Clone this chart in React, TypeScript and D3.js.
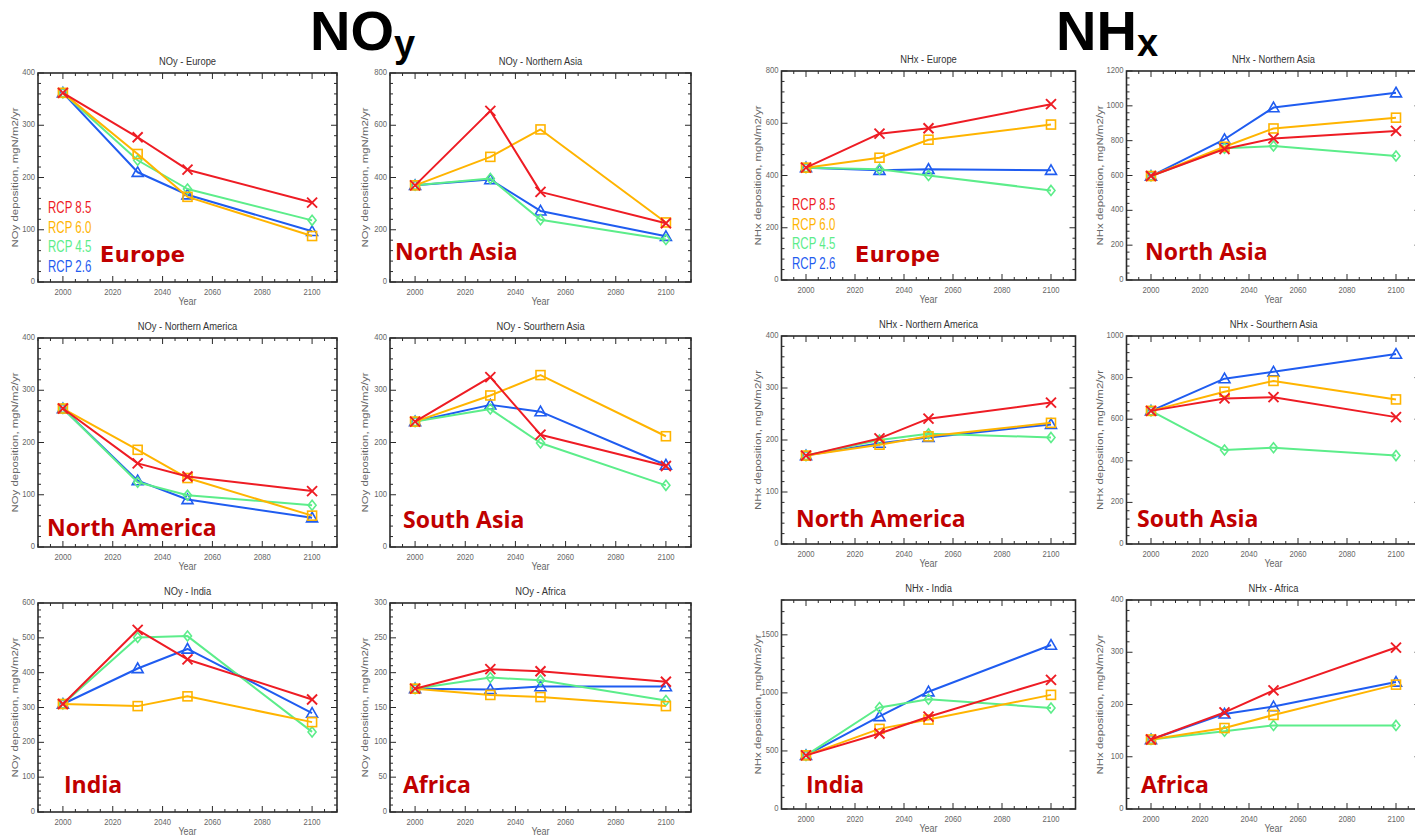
import React from 'react';
import * as d3 from 'd3';

// ---------- data ----------
const years = [2000, 2030, 2050, 2100];
const scenarios = ['RCP 8.5', 'RCP 6.0', 'RCP 4.5', 'RCP 2.6'];
const scenarioColors = ['#ee1c24', '#ffb400', '#5ced8a', '#1f5cf0'];
const scenarioMarkers = ['x', 'square', 'diamond', 'triangle'];
const xTicks = [2000, 2020, 2040, 2060, 2080, 2100];

// each: [RCP8.5, RCP6.0, RCP4.5, RCP2.6]
const noyEurope = [
  [362, 277, 215, 152],
  [362, 245, 163, 88],
  [362, 233, 178, 118],
  [362, 210, 167, 97],
];
const noyNorthAsia = [
  [370, 655, 345, 225],
  [370, 479, 584, 228],
  [370, 396, 238, 163],
  [370, 392, 272, 175],
];
const noyNorthAmerica = [
  [265, 160, 135, 107],
  [265, 186, 132, 60],
  [265, 124, 99, 80],
  [265, 127, 91, 56],
];
const noySouthAsia = [
  [240, 325, 215, 155],
  [240, 290, 329, 212],
  [240, 264, 199, 118],
  [240, 272, 259, 157],
];
const noyIndia = [
  [310, 523, 438, 323],
  [310, 304, 332, 258],
  [310, 501, 505, 230],
  [310, 412, 468, 284],
];
const noyAfrica = [
  [177, 205, 202, 187],
  [177, 168, 165, 152],
  [177, 193, 189, 160],
  [177, 176, 180, 180],
];
const nhxEurope = [
  [430, 560, 581, 673],
  [430, 468, 537, 595],
  [430, 424, 400, 343],
  [430, 420, 424, 420],
];
const nhxNorthAsia = [
  [597, 752, 813, 856],
  [597, 765, 870, 932],
  [597, 756, 769, 712],
  [597, 808, 990, 1075],
];
const nhxNorthAmerica = [
  [170, 203, 241, 272],
  [170, 191, 207, 233],
  [170, 200, 212, 205],
  [170, 194, 205, 230],
];
const nhxSouthAsia = [
  [640, 700, 706, 610],
  [640, 732, 784, 695],
  [640, 452, 463, 425],
  [640, 795, 828, 913],
];
const nhxIndia = [
  [462, 650, 795, 1112],
  [462, 690, 770, 983],
  [462, 874, 946, 870],
  [462, 797, 1010, 1412],
];
const nhxAfrica = [
  [133, 185, 227, 309],
  [133, 155, 180, 238],
  [133, 149, 160, 160],
  [133, 182, 196, 243],
];

// ---------- layout ----------
const colNoy1 = { x0: 38, x1: 337, yLabX: 15 };
const colNoy2 = { x0: 390, x1: 691, yLabX: 365 };
const colNhx1 = { x0: 781.5, x1: 1075.5, yLabX: 758 };
const colNhx2 = { x0: 1126.5, x1: 1420.5, yLabX: 1100 };
const rowNoy = [{ y0: 73, y1: 282 }, { y0: 338, y1: 547 }, { y0: 603, y1: 812 }];
const rowNhx = [{ y0: 71, y1: 280 }, { y0: 336, y1: 544 }, { y0: 600, y1: 809 }];

const panels = [
  { title: 'NOy - Europe', region: 'Europe', regionFont: 'eu', rx: 100, ry: 262, data: noyEurope, yMax: 400, step: 100, col: colNoy1, row: rowNoy[0], ylab: 'NOy deposition, mgN/m2/yr', legend: { x: 48, y: 213 } },
  { title: 'NOy - Northern Asia', region: 'North Asia', rx: 395, ry: 260, data: noyNorthAsia, yMax: 800, step: 200, col: colNoy2, row: rowNoy[0], ylab: 'NOy deposition, mgN/m2/yr' },
  { title: 'NOy - Northern America', region: 'North America', rx: 47, ry: 536, data: noyNorthAmerica, yMax: 400, step: 100, col: colNoy1, row: rowNoy[1], ylab: 'NOy deposition, mgN/m2/yr' },
  { title: 'NOy - Sourthern Asia', region: 'South Asia', rx: 403, ry: 528, data: noySouthAsia, yMax: 400, step: 100, col: colNoy2, row: rowNoy[1], ylab: 'NOy deposition, mgN/m2/yr' },
  { title: 'NOy - India', region: 'India', rx: 64, ry: 793, data: noyIndia, yMax: 600, step: 100, col: colNoy1, row: rowNoy[2], ylab: 'NOy deposition, mgN/m2/yr' },
  { title: 'NOy - Africa', region: 'Africa', rx: 403, ry: 793, data: noyAfrica, yMax: 300, step: 50, col: colNoy2, row: rowNoy[2], ylab: 'NOy deposition, mgN/m2/yr' },
  { title: 'NHx - Europe', region: 'Europe', regionFont: 'eu', rx: 855, ry: 262, data: nhxEurope, yMax: 800, step: 200, col: colNhx1, row: rowNhx[0], ylab: 'NHx deposition, mgN/m2/yr', legend: { x: 792, y: 210 } },
  { title: 'NHx - Northern Asia', region: 'North Asia', rx: 1145, ry: 260, data: nhxNorthAsia, yMax: 1200, step: 200, col: colNhx2, row: rowNhx[0], ylab: 'NHx deposition, mgN/m2/yr' },
  { title: 'NHx - Northern America', region: 'North America', rx: 796, ry: 527, data: nhxNorthAmerica, yMax: 400, step: 100, col: colNhx1, row: rowNhx[1], ylab: 'NHx deposition, mgN/m2/yr' },
  { title: 'NHx - Sourthern Asia', region: 'South Asia', rx: 1137, ry: 527, data: nhxSouthAsia, yMax: 1000, step: 200, col: colNhx2, row: rowNhx[1], ylab: 'NHx deposition, mgN/m2/yr' },
  { title: 'NHx - India', region: 'India', rx: 806, ry: 793, data: nhxIndia, yMax: 1800, step: 500, col: colNhx1, row: rowNhx[2], ylab: 'NHx deposition, mgN/m2/yr' },
  { title: 'NHx - Africa', region: 'Africa', rx: 1141, ry: 793, data: nhxAfrica, yMax: 400, step: 100, col: colNhx2, row: rowNhx[2], ylab: 'NHx deposition, mgN/m2/yr' },
];

const SANS = "'Liberation Sans', Arial, sans-serif";

function CText({ x, y, sx = 0.85, anchor = 'middle', size, fill, weight = 'normal', rotate = 0, children }: any) {
  return (
    <text
      transform={`translate(${x},${y}) rotate(${rotate}) scale(${sx},1)`}
      textAnchor={anchor}
      fontSize={size}
      fill={fill}
      fontWeight={weight}
      fontFamily={SANS}
    >
      {children}
    </text>
  );
}

function Marker({ type, cx, cy, color }: any) {
  const sw = 1.6;
  if (type === 'x') {
    const s = 5;
    return (
      <g stroke={color} strokeWidth={sw + 0.3} fill="none">
        <line x1={cx - s} y1={cy - s} x2={cx + s} y2={cy + s} />
        <line x1={cx - s} y1={cy + s} x2={cx + s} y2={cy - s} />
      </g>
    );
  }
  if (type === 'square') {
    const s = 4.5;
    return <rect x={cx - s} y={cy - s} width={2 * s} height={2 * s} stroke={color} strokeWidth={sw} fill="none" />;
  }
  if (type === 'diamond') {
    const s = 5;
    return <path d={`M${cx},${cy - s}L${cx + s * 0.8},${cy}L${cx},${cy + s}L${cx - s * 0.8},${cy}Z`} stroke={color} strokeWidth={sw} fill="none" />;
  }
  const s = 5.5;
  return <path d={`M${cx},${cy - s}L${cx + s},${cy + s * 0.75}L${cx - s},${cy + s * 0.75}Z`} stroke={color} strokeWidth={sw} fill="none" />;
}

function Panel({ p }: any) {
  const { col, row } = p;
  const x = d3.scaleLinear().domain([1990, 2110]).range([col.x0, col.x1]);
  const y = d3.scaleLinear().domain([0, p.yMax]).range([row.y1, row.y0]);
  const line = d3
    .line<number>()
    .x((_, i) => x(years[i]))
    .y((d) => y(d));
  const majorY = d3.range(0, p.yMax + 0.001, p.step);
  const minorStep = p.step / 5;
  const minorY = d3.range(0, p.yMax + 0.001, minorStep).filter((v) => Math.abs(v / p.step - Math.round(v / p.step)) > 1e-6);
  const minorX = d3.range(1990, 2111, 5).filter((v) => v % 20 !== 0);
  const cxm = (col.x0 + col.x1) / 2;
  const cym = (row.y0 + row.y1) / 2;
  const frameColor = '#2a2a2a';
  const order = [3, 2, 1, 0];
  return (
    <g>
      {/* title */}
      <CText x={cxm} y={row.y0 - 8} size={11} fill="#333" sx={0.85}>
        {p.title}
      </CText>
      {/* y label */}
      <text
        transform={`translate(${col.yLabX},${cym}) rotate(-90)`}
        textAnchor="middle"
        dominantBaseline="middle"
        fontSize={9.5}
        fill="#666"
        fontFamily={SANS}
        textLength={140}
        lengthAdjust="spacingAndGlyphs"
      >
        {p.ylab}
      </text>
      {/* x label */}
      <CText x={cxm} y={row.y1 + 23} size={10} fill="#666" sx={0.9}>
        Year
      </CText>
      {/* ticks */}
      <g stroke={frameColor} strokeWidth={1}>
        {majorY.map((v) => (
          <g key={'my' + v}>
            <line x1={col.x0} x2={col.x0 + 6} y1={y(v)} y2={y(v)} />
            <line x1={col.x1} x2={col.x1 - 6} y1={y(v)} y2={y(v)} />
          </g>
        ))}
        {minorY.map((v) => (
          <g key={'ny' + v}>
            <line x1={col.x0} x2={col.x0 + 3} y1={y(v)} y2={y(v)} />
            <line x1={col.x1} x2={col.x1 - 3} y1={y(v)} y2={y(v)} />
          </g>
        ))}
        {xTicks.map((v) => (
          <g key={'mx' + v}>
            <line x1={x(v)} x2={x(v)} y1={row.y1} y2={row.y1 - 6} />
            <line x1={x(v)} x2={x(v)} y1={row.y0} y2={row.y0 + 6} />
          </g>
        ))}
        {minorX.map((v) => (
          <g key={'nx' + v}>
            <line x1={x(v)} x2={x(v)} y1={row.y1} y2={row.y1 - 3} />
            <line x1={x(v)} x2={x(v)} y1={row.y0} y2={row.y0 + 3} />
          </g>
        ))}
      </g>
      {/* tick labels */}
      {majorY.map((v) => (
        <CText key={'ly' + v} x={col.x0 - 3} y={y(v) + 2} size={9} fill="#666" anchor="end" sx={0.85}>
          {v}
        </CText>
      ))}
      {xTicks.map((v) => (
        <CText key={'lx' + v} x={x(v)} y={row.y1 + 13} size={9} fill="#666" sx={0.85}>
          {v}
        </CText>
      ))}
      {/* frame */}
      <rect x={col.x0} y={row.y0} width={col.x1 - col.x0} height={row.y1 - row.y0} fill="none" stroke={frameColor} strokeWidth={1.6} />
      {/* series */}
      {order.map((si) => (
        <g key={'s' + si}>
          <path d={line(p.data[si]) || ''} fill="none" stroke={scenarioColors[si]} strokeWidth={2} strokeLinejoin="round" />
          {p.data[si].map((v: number, i: number) => (
            <Marker key={i} type={scenarioMarkers[si]} cx={x(years[i])} cy={y(v)} color={scenarioColors[si]} />
          ))}
        </g>
      ))}
      {/* legend */}
      {p.legend &&
        scenarios.map((s, i) => (
          <CText key={s} x={p.legend.x} y={p.legend.y + i * 19.5} size={16} fill={scenarioColors[i]} anchor="start" sx={0.72}>
            {s}
          </CText>
        ))}
      {/* region label */}
      {p.regionFont === 'eu' ? (
        <text x={p.rx} y={p.ry} fontFamily="'DejaVu Sans', Verdana, sans-serif" fontWeight="bold" fontSize={21} fill="#c00000" textLength={85} lengthAdjust="spacing">
          {p.region}
        </text>
      ) : (
        <text x={p.rx} y={p.ry} fontFamily="'Open Sans', sans-serif" fontWeight="bold" fontSize={23} fill="#c00000">
          {p.region}
        </text>
      )}
    </g>
  );
}

export default function App() {
  return (
    <svg
      width={1415}
      height={839}
      style={{ position: 'absolute', left: 0, top: 0, background: '#fff' }}
      xmlns="http://www.w3.org/2000/svg"
    >
      <rect x={0} y={0} width={1415} height={839} fill="#fff" />
      {panels.map((p, i) => (
        <Panel key={i} p={p} />
      ))}
      {/* big group titles */}
      <text x={310} y={50} fontFamily={SANS} fontWeight="bold" fontSize={56} fill="#000">
        NO
        <tspan fontSize={38} dy={7}>y</tspan>
      </text>
      <text x={1056} y={50} fontFamily={SANS} fontWeight="bold" fontSize={56} fill="#000">
        NH
        <tspan fontSize={38} dy={6}>x</tspan>
      </text>
    </svg>
  );
}
